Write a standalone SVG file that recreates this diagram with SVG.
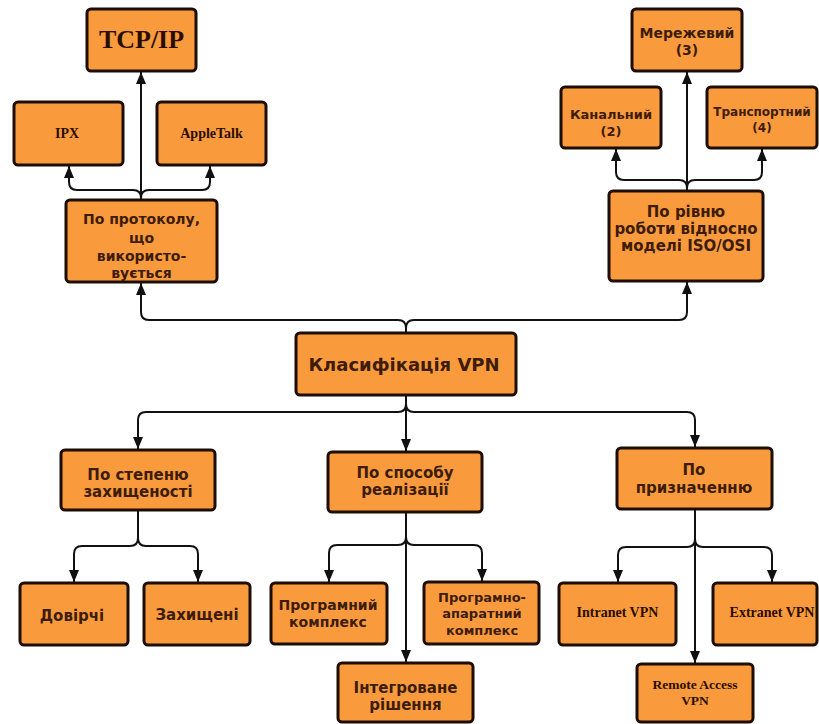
<svg xmlns="http://www.w3.org/2000/svg" width="819" height="724" viewBox="0 0 819 724">
<defs>
<marker id="ah" markerUnits="userSpaceOnUse" markerWidth="12" markerHeight="10" viewBox="0 0 12 10" refX="12" refY="5" orient="auto">
<path d="M0,0 L12,5 L0,10 Z" fill="#111"/>
</marker>
<style>
.box{fill:#f99b3c;stroke:#1c0d05;stroke-width:3;}
.s{font-family:"DejaVu Sans",sans-serif;font-weight:bold;fill:#3d1c0a;text-anchor:middle;font-size:14px;}
.r{font-family:"Liberation Serif",serif;font-weight:bold;fill:#2b0d00;text-anchor:middle;font-size:14px;}
.a{fill:none;stroke:#111;stroke-width:2;marker-end:url(#ah);}
</style>
</defs>
<rect width="819" height="724" fill="#fff"/>
<g id="connectors">
<path class="a" d="M141,200 L141,72"/>
<path class="a" d="M141,198 Q141,190 133,190 L77,190 Q69,190 69,182 L69,166"/>
<path class="a" d="M141,198 Q141,190 149,190 L202,190 Q210,190 210,182 L210,166"/>
<path class="a" d="M687,191 L687,72"/>
<path class="a" d="M687,188 Q687,180 679,180 L624,180 Q616,180 616,172 L616,149"/>
<path class="a" d="M687,188 Q687,180 695,180 L754,180 Q762,180 762,172 L762,149"/>
<path class="a" d="M406,333 L406,328 Q406,320 398,320 L149,320 Q141,320 141,312 L141,283"/>
<path class="a" d="M406,333 L406,328 Q406,320 414,320 L679,320 Q687,320 687,312 L687,282"/>
<path class="a" d="M406,395 L406,404 Q406,412 398,412 L146,412 Q138,412 138,420 L138,449"/>
<path class="a" d="M406,395 L406,404 Q406,412 414,412 L687,412 Q695,412 695,420 L695,447"/>
<path class="a" d="M406,395 L406,451"/>
<path class="a" d="M138,510 L138,538 Q138,546 130,546 L82,546 Q74,546 74,554 L74,582"/>
<path class="a" d="M138,538 Q138,546 146,546 L190,546 Q198,546 198,554 L198,582"/>
<path class="a" d="M406,512 L406,662"/>
<path class="a" d="M406,537 Q406,545 398,545 L337,545 Q329,545 329,553 L329,582"/>
<path class="a" d="M406,537 Q406,545 414,545 L474,545 Q482,545 482,553 L482,581"/>
<path class="a" d="M695,509 L695,663"/>
<path class="a" d="M695,539 Q695,547 687,547 L626,547 Q618,547 618,555 L618,582"/>
<path class="a" d="M695,539 Q695,547 703,547 L764,547 Q772,547 772,555 L772,582"/>
</g>
<g id="tcpip"><rect class="box" x="87" y="9" width="109" height="62" rx="4"/><text class="r" x="141.5" y="48" style="font-size:26px">TCP/IP</text></g>
<g id="ipx"><rect class="box" x="14" y="102" width="109" height="63" rx="4"/><text class="r" x="67" y="138">IPX</text></g>
<g id="appletalk"><rect class="box" x="157" y="102" width="109" height="63" rx="4"/><text class="r" x="211.5" y="138">AppleTalk</text></g>
<g id="protocol"><rect class="box" x="66" y="200" width="151" height="82" rx="4"/>
<text class="s" x="141.5"><tspan x="141.5" y="224">По протоколу,</tspan><tspan x="141.5" y="243">що</tspan><tspan x="141.5" y="261">використо-</tspan><tspan x="141.5" y="278">вується</tspan></text></g>
<g id="merezh"><rect class="box" x="632" y="9" width="110" height="62" rx="4"/>
<text class="s" x="687"><tspan x="687" y="38">Мережевий</tspan><tspan x="687" y="55">(3)</tspan></text></g>
<g id="kanal"><rect class="box" x="561" y="87" width="100" height="61" rx="4"/>
<text class="s" x="611" style="font-size:13px"><tspan x="611" y="119">Канальний</tspan><tspan x="611" y="136">(2)</tspan></text></g>
<g id="transport"><rect class="box" x="707" y="87" width="110" height="61" rx="4"/>
<text class="s" x="762" style="font-size:12px"><tspan x="762" y="116">Транспортний</tspan><tspan x="762" y="132">(4)</tspan></text></g>
<g id="riven"><rect class="box" x="609" y="191" width="154" height="90" rx="4"/>
<text class="s" x="686" style="font-size:15px"><tspan x="686" y="217">По рівню</tspan><tspan x="686" y="234">роботи відносно</tspan><tspan x="686" y="251">моделі ISO/OSI</tspan></text></g>
<g id="klas"><rect class="box" x="296" y="333" width="220" height="62" rx="4"/><text class="s" x="404" y="371" style="font-size:18px">Класифікація VPN</text></g>
<g id="stepen"><rect class="box" x="61" y="450" width="154" height="60" rx="4"/>
<text class="s" x="138" style="font-size:15px"><tspan x="138" y="480">По степеню</tspan><tspan x="138" y="497">захищеності</tspan></text></g>
<g id="sposib"><rect class="box" x="328" y="452" width="154" height="60" rx="4"/>
<text class="s" x="405" style="font-size:15px"><tspan x="405" y="478">По способу</tspan><tspan x="405" y="495">реалізації</tspan></text></g>
<g id="pryzn"><rect class="box" x="617" y="448" width="155" height="61" rx="4"/>
<text class="s" x="694" style="font-size:15px"><tspan x="694" y="475">По</tspan><tspan x="694" y="493">призначенню</tspan></text></g>
<g id="dovirchi"><rect class="box" x="20" y="583" width="108" height="62" rx="4"/><text class="s" x="72" y="621" style="font-size:15px">Довірчі</text></g>
<g id="zahyscheni"><rect class="box" x="144" y="583" width="106" height="62" rx="4"/><text class="s" x="197" y="620" style="font-size:15px">Захищені</text></g>
<g id="program"><rect class="box" x="271" y="583" width="116" height="61" rx="4"/>
<text class="s" x="328" style="font-size:14px"><tspan x="328" y="610">Програмний</tspan><tspan x="328" y="627">комплекс</tspan></text></g>
<g id="progapar"><rect class="box" x="424" y="582" width="115" height="62" rx="4"/>
<text class="s" x="482" style="font-size:13px"><tspan x="482" y="602">Програмно-</tspan><tspan x="482" y="618">апаратний</tspan><tspan x="482" y="635">комплекс</tspan></text></g>
<g id="integr"><rect class="box" x="338" y="663" width="135" height="59" rx="4"/>
<text class="s" x="405.5" style="font-size:15px"><tspan x="405.5" y="693">Інтегроване</tspan><tspan x="405.5" y="710">рішення</tspan></text></g>
<g id="intranet"><rect class="box" x="559" y="583" width="117" height="62" rx="4"/><text class="r" x="617.5" y="617">Intranet VPN</text></g>
<g id="extranet"><rect class="box" x="713" y="583" width="104" height="62" rx="4"/><text class="r" x="772" y="617">Extranet VPN</text></g>
<g id="remote"><rect class="box" x="637" y="664" width="116" height="58" rx="4"/>
<text class="r" x="695" style="font-size:13.5px"><tspan x="695" y="689">Remote Access</tspan><tspan x="695" y="705">VPN</tspan></text></g>
</svg>
